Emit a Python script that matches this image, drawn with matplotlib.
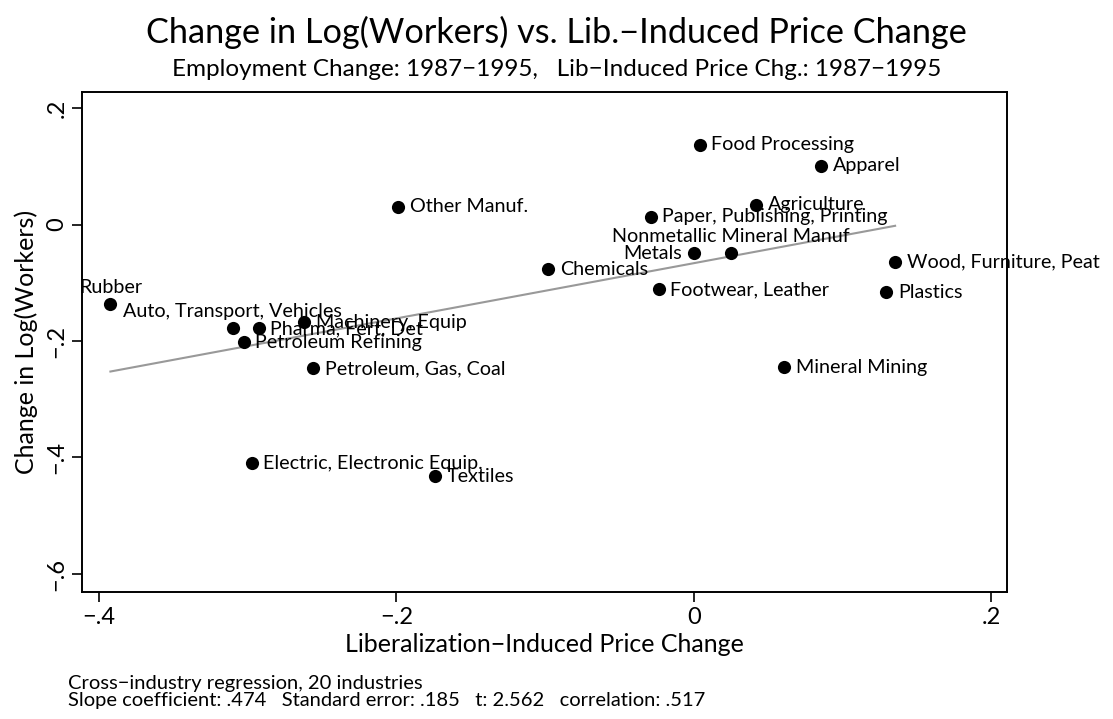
import numpy as np
import matplotlib
matplotlib.use("Agg")
import matplotlib.pyplot as plt

plt.rcParams['font.family'] = ['Lato', 'DejaVu Sans']

# valores
industrias = ["Food Processing", "Apparel", "Agriculture", "Paper, Publishing, Printing",
              "Other Manuf.", "Metals", "Nonmetallic Mineral Manuf", "Chemicals",
              "Footwear, Leather", "Wood, Furniture, Peat", "Plastics", "Rubber",
              "Auto, Transport, Vehicles", "Pharma, Fert, Det", "Machinery, Equip",
              "Petroleum Refining", "Petroleum, Gas, Coal", "Mineral Mining",
              "Textiles", "Electric, Electronic Equip."]
preco = [0.004, 0.0856, 0.0418, -0.029, -0.1989, 0.0, 0.0249, -0.0978,
         -0.0236, 0.1355, 0.1295, -0.3924, -0.3102, -0.2927, -0.2623,
         -0.3028, -0.2562, 0.0607, -0.174, -0.2974]
emprego = [0.1372, 0.1012, 0.0343, 0.0137, 0.0309, -0.0497, -0.0497, -0.0772,
           -0.1115, -0.0635, -0.1166, -0.1372, -0.1784, -0.1784, -0.1681,
           -0.2024, -0.247, -0.2453, -0.4322, -0.4099]
# posição do rótulo (relógio do Stata): 3 = direita, 12 = acima, 9 = esquerda
posicao = [3, 3, 3, 3, 3, 9, 12, 3, 3, 3, 3, 12, 12, 3, 3, 3, 3, 3, 3, 3]

inclinacao = 0.474  # coeficiente informado na nota

xticks = [-0.4, -0.2, 0, 0.2]
yticks = [-0.6, -0.4, -0.2, 0, 0.2]

def fmt(v):
    if v == 0:
        return "0"
    s = ("%.1f" % abs(v)).lstrip("0")
    return ("\u2212" if v < 0 else "") + s

fig = plt.figure(figsize=(11.13, 7.19), dpi=100)
ax = fig.add_axes([0.0737, 0.1766, 0.9048 - 0.0737, 0.872 - 0.1766])

x = np.array(preco)
y = np.array(emprego)
# reta de MQO: passa pelas médias com a inclinação da nota
xl = np.array([x.min(), x.max()])
ax.plot(xl, y.mean() + inclinacao * (xl - x.mean()), color='#999999', lw=1.5, zorder=1)
ax.scatter(x, y, s=90, color='black', zorder=2, linewidths=0)

fs_lab = 14.2
for nome, xi, yi, p in zip(industrias, preco, emprego, posicao):
    if p == 3:
        ax.annotate(nome, (xi, yi), xytext=(8.5, 0), textcoords='offset points',
                    ha='left', va='center', fontsize=fs_lab)
    elif p == 9:
        ax.annotate(nome, (xi, yi), xytext=(-8.5, 0), textcoords='offset points',
                    ha='right', va='center', fontsize=fs_lab)
    else:
        ax.annotate(nome, (xi, yi), xytext=(0, 12.5), textcoords='offset points',
                    ha='center', va='center', fontsize=fs_lab)

ax.set_xlim(-0.4115, 0.2108)
ax.set_ylim(-0.631, 0.2275)
ax.set_xticks(xticks)
ax.set_xticklabels([fmt(v) for v in xticks], fontsize=17)
ax.set_yticks(yticks)
ax.set_yticklabels([fmt(v) for v in yticks], fontsize=17, rotation=90, va='center')
ax.tick_params(direction='out', length=7, width=1.2)
for sp in ax.spines.values():
    sp.set_linewidth(1.4)

ax.set_xlabel("Liberalization\u2212Induced Price Change", fontsize=18, labelpad=4)
ax.set_ylabel("Change in Log(Workers)", fontsize=18, labelpad=6)

fig.text(0.5, 0.955, "Change in Log(Workers) vs. Lib.\u2212Induced Price Change",
         ha='center', va='center', fontsize=24.7)
fig.text(0.5, 0.903, "Employment Change: 1987\u22121995,   Lib\u2212Induced Price Chg.: 1987\u22121995",
         ha='center', va='center', fontsize=17.5)
fig.text(0.061, 0.050, "Cross\u2212industry regression, 20 industries",
         ha='left', va='center', fontsize=14.5)
fig.text(0.061, 0.026, "Slope coefficient: .474   Standard error: .185   t: 2.562   correlation: .517",
         ha='left', va='center', fontsize=14.5)

fig.savefig("out.png", dpi=100)
